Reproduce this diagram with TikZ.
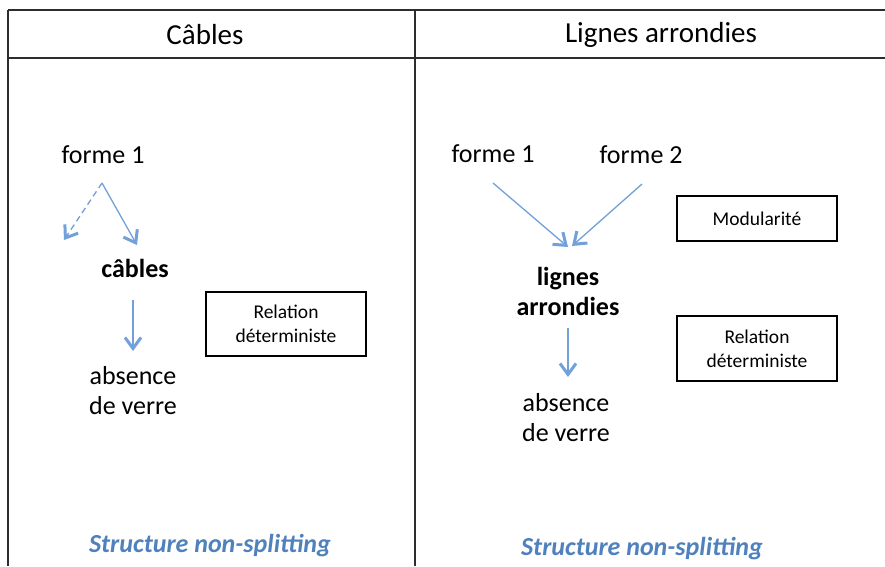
\documentclass[tikz,border=0pt]{standalone}
\usepackage{fontspec}
\setmainfont{Carlito}
\usetikzlibrary{arrows.meta}
\definecolor{arrowblue}{RGB}{114,160,218}
\definecolor{titleblue}{RGB}{79,129,189}
\definecolor{framegray}{RGB}{45,45,45}
\tikzset{
  frameline/.style={draw=framegray, line width=1.4pt},
  txt/.style={inner sep=0pt, align=center, font=\fontsize{26}{30}\selectfont},
  boldtxt/.style={txt, font=\fontsize{26}{30}\selectfont\bfseries},
  headtxt/.style={inner sep=0pt, font=\fontsize{29}{34}\selectfont},
  boxtxt/.style={draw=black, line width=1.1pt, inner sep=0pt, align=center,
     minimum width=160pt, font=\fontsize{19.5}{24}\selectfont},
  foottxt/.style={inner sep=0pt, text=titleblue, font=\fontsize{26}{30}\selectfont\bfseries\itshape},
  arr/.style={draw=arrowblue, line width=1.3pt,
     -{Straight Barb[length=11pt,width=16pt,line width=3pt]}},
  dasharr/.style={arr, dash pattern=on 6pt off 4pt}
}
\begin{document}
\begin{tikzpicture}[x=1pt,y=-1pt]
\useasboundingbox (0,0) rectangle (885,566);
% frame
\draw[frameline] (8,10) -- (885,10);
\draw[frameline] (8,58) -- (885,58);
\draw[frameline] (8,10) -- (8,566);
\draw[frameline] (415,10) -- (415,566);
% headers
\node[headtxt] (h1) at (205,35) {Câbles};
\node[headtxt] (h2) at (661,35) {Lignes arrondies};
% left column
\node[txt] (f1L) at (103,155) {forme 1};
\node[boldtxt, anchor=base] (cab) at (135,277) {câbles};
\node[txt] (absL) at (133,391) {absence\\de verre};
\node[boxtxt, minimum height=64pt] (rdL) at (286,324) {Relation\\déterministe};
\coordinate (f1Lo) at (102,183);
\coordinate (dashend) at (64,240);
\coordinate (cabin) at (137,245);
\coordinate (cabout) at (133,300);
\coordinate (absLin) at (133,351);
\draw[dasharr] (f1Lo) -- (dashend);
\draw[arr] (f1Lo) -- (cabin);
\draw[arr] (cabout) -- (absLin);
% right column
\node[txt] (f1R) at (493,154) {forme 1};
\node[txt] (f2R) at (641,155) {forme 2};
\node[boldtxt] (lg) at (568,291) {lignes\\arrondies};
\node[txt] (absR) at (566,418) {absence\\de verre};
\node[boxtxt, minimum height=45pt] (mod) at (757,218.5) {Modularité};
\node[boxtxt, minimum height=65pt] (rdR) at (757,348.5) {Relation\\déterministe};
\coordinate (f1Ro) at (493,183);
\coordinate (f2Ro) at (642,184);
\coordinate (lgin1) at (568,247);
\coordinate (lgin2) at (572,246);
\coordinate (lgout) at (568,328);
\coordinate (absRin) at (568,377);
\draw[arr] (f1Ro) -- (lgin1);
\draw[arr] (f2Ro) -- (lgin2);
\draw[arr] (lgout) -- (absRin);
% footers
\node[foottxt] (sL) at (210,546) {Structure non-splitting};
\node[foottxt] (sR) at (642,549) {Structure non-splitting};
\end{tikzpicture}
\end{document}
